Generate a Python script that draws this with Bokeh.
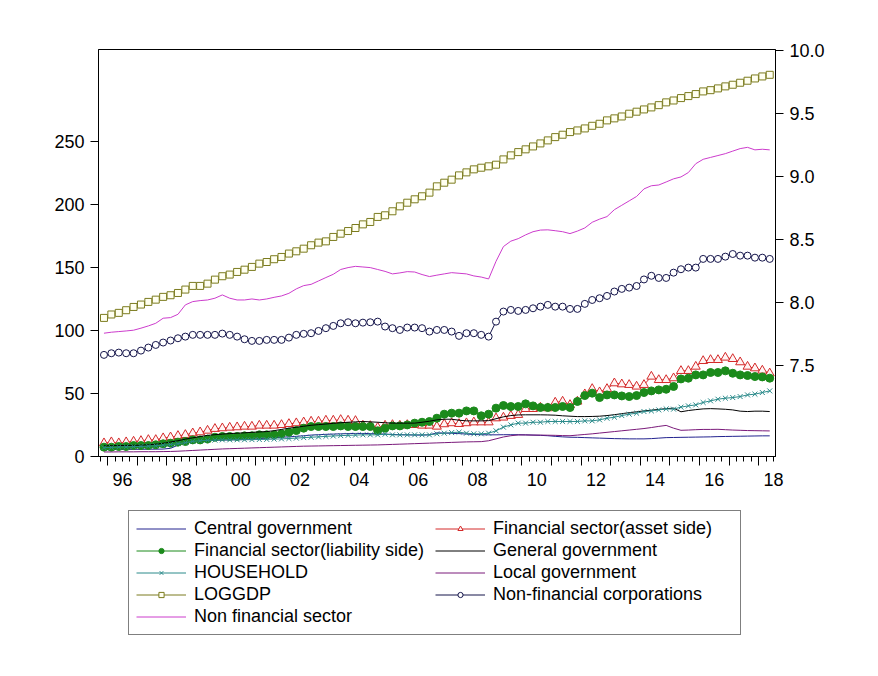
import numpy as np
from bokeh.plotting import figure
from bokeh.layouts import column
from bokeh.models import (Range1d, LinearAxis, FixedTicker, CustomJSTickFormatter,
                          NumeralTickFormatter, Legend, LegendItem)
from bokeh.embed import file_html
from bokeh.resources import INLINE

# ---------------- data (quarterly, 1995Q4 .. 2018Q2) ----------------
quarters = [f"{1995 + (i + 3) // 4}Q{(i + 3) % 4 + 1}" for i in range(91)]

central_gov = [5.5, 5.5, 5.6, 5.6, 5.7, 5.7, 5.8, 5.8, 5.9, 6.5, 9.0, 11.0, 11.8, 12.2, 12.5, 12.8, 13.0, 13.2,
               13.3, 13.5, 13.8, 14.2, 14.6, 15.0, 15.3, 15.6, 16.0, 16.5, 17.0, 17.3, 17.6, 17.8, 18.0, 18.2, 18.3,
               18.3, 18.2, 18.0, 17.8, 17.5, 17.3, 17.2, 17.0, 17.0, 17.2, 18.8, 18.6, 18.4, 18.2, 17.8, 17.5, 17.3,
               17.2, 17.2, 17.3, 17.3, 17.3, 17.2, 17.0, 16.8, 16.5, 16.0, 15.6, 15.3, 15.2, 15.0, 14.8, 14.6, 14.4,
               14.2, 14.1, 14.0, 14.0, 14.0, 14.2, 14.6, 15.0, 15.1, 15.2, 15.3, 15.4, 15.5, 15.6, 15.8, 15.9, 16.0,
               16.1, 16.2, 16.3, 16.4, 16.4]

fin_asset = [10.6, 11.4, 10.6, 11.4, 11.9, 12.4, 13.2, 13.2, 14.6, 15.3, 16.4, 17.2, 18.5, 19.3, 20.6, 22.0, 22.5,
             23.0, 23.3, 23.8, 23.8, 24.6, 24.6, 24.6, 25.1, 25.9, 26.5, 27.2, 27.8, 27.8, 28.6, 28.6, 29.1, 28.6,
             28.3,
             24.6, 24.3, 23.0, 24.6, 25.1, 24.6, 25.1, 25.1, 24.6, 24.6, 23.8, 25.7, 26.5, 25.9, 26.5, 27.2, 27.2,
             27.2, 30.4, 31.0, 32.3, 33.1, 37.8, 37.8, 38.9, 38.4, 42.9, 43.7, 41.0, 43.7, 49.5, 53.7, 51.1, 53.7,
             58.2, 57.4, 56.9, 55.6, 56.9, 63.5, 60.8, 60.8, 62.2, 68.0, 68.0, 71.4, 75.9, 76.7, 76.7, 78.6, 77.5,
             74.9, 71.4, 70.1, 68.3, 66.1]

fin_liab = [7.4, 7.4, 7.9, 7.9, 8.7, 8.7, 8.7, 9.3, 10.1, 10.6, 11.4, 11.9, 13.2, 13.2, 13.8, 15.3, 15.9, 15.9,
            15.9, 16.4, 16.4, 17.2, 17.2, 17.2, 18.0, 19.3, 20.6, 22.5, 23.8, 23.8, 23.8, 23.8, 24.3, 23.8, 23.8,
            23.8, 23.8, 20.4, 22.5, 24.3, 24.3, 25.1, 26.5, 27.2, 27.8, 30.4, 33.6, 34.4, 34.4, 36.2, 36.2, 32.3,
            33.6, 38.4, 40.5, 39.7, 39.7, 41.8, 40.2, 38.9, 38.9, 38.9, 39.7, 38.9, 43.7, 48.4, 50.3, 46.8, 48.9,
            48.9, 48.1, 47.6, 48.4, 50.8, 52.1, 52.9, 53.4, 55.6, 61.6, 62.2, 64.8, 64.8, 66.7, 66.7, 68.0, 66.1,
            64.8, 64.3, 63.5, 63.2, 62.2]

general_gov = [8.5, 8.6, 8.7, 8.8, 8.9, 9.0, 9.3, 9.8, 10.5, 11.5, 12.5, 13.8, 14.8, 15.8, 16.8, 17.3, 17.8, 18.2,
               18.5, 18.8, 19.2, 19.5, 19.8, 20.5, 21.5, 22.5, 23.2, 24.0, 24.8, 25.3, 25.8, 26.3, 26.8, 27.2, 27.5,
               27.8, 27.5, 27.2, 26.8, 26.5, 26.5, 26.5, 26.5, 27.2, 28.0, 29.1, 29.6, 29.6, 28.8, 28.3, 28.3, 28.3,
               28.5, 30.0, 31.5, 32.5, 33.0, 33.1, 33.1, 33.1, 33.0, 32.8, 32.3, 32.0, 31.7, 31.7, 31.8, 32.0, 32.5,
               33.2, 34.0, 34.8, 35.5, 36.2, 36.8, 37.4, 38.0, 38.4, 35.5, 36.5, 37.2, 37.8, 38.0, 37.8, 37.5, 37.0,
               36.0, 35.7, 36.0, 36.0, 35.7]

household = [7.0, 7.2, 7.5, 7.6, 7.8, 8.0, 8.2, 8.5, 9.0, 9.5, 10.2, 11.0, 12.0, 12.5, 12.8, 13.0, 13.2, 13.2,
             13.3, 13.3, 13.4, 13.5, 13.6, 13.8, 14.0, 14.3, 14.6, 15.0, 15.3, 15.6, 16.0, 16.3, 16.6, 16.8, 17.0,
             17.2, 17.2, 17.2, 17.7, 17.2, 17.2, 17.2, 17.2, 17.2, 17.2, 18.0, 18.5, 19.0, 19.3, 18.5, 18.0, 18.0,
             18.5, 20.4, 23.3, 25.1, 26.5, 26.5, 27.2, 27.2, 27.8, 27.8, 27.8, 27.8, 27.8, 28.3, 28.3, 29.1, 30.4,
             31.2, 32.5, 33.6, 34.4, 35.7, 36.2, 37.0, 37.8, 37.6, 39.2, 40.2, 41.0, 42.9, 44.2, 45.5, 46.3, 46.8,
             47.6, 48.9, 49.5, 50.8, 52.1]

local_gov = [3.6, 3.6, 3.7, 3.7, 3.7, 3.8, 3.8, 3.8, 3.9, 4.0, 4.2, 4.5, 4.8, 5.1, 5.4, 5.7, 6.0, 6.2, 6.4, 6.6,
             6.8, 7.0, 7.2, 7.4, 7.6, 7.8, 8.0, 8.2, 8.3, 8.4, 8.5, 8.6, 8.7, 8.8, 8.9,
             9.0, 9.1, 9.2, 9.4, 9.6, 9.8, 10.0, 10.2, 10.4, 10.6, 10.8, 11.0, 11.2, 11.4, 11.6, 11.7,
             11.8, 12.5, 14.0, 15.5, 16.5, 17.1, 17.1, 17.0, 17.0, 16.9, 16.8, 16.6, 16.5, 17.0, 17.5, 18.0, 18.6,
             19.2, 19.8, 20.4, 21.0, 21.6, 22.2, 23.0, 23.9, 24.7, 22.5, 20.8, 21.0, 21.3, 21.5, 21.5, 21.6, 21.3,
             21.0, 20.8, 20.6, 20.5, 20.4, 20.3]

loggdp = [7.876, 7.903, 7.916, 7.937, 7.963, 7.982, 8.003, 8.021, 8.043, 8.056, 8.074, 8.101, 8.130, 8.130, 8.148,
          8.180, 8.207, 8.220, 8.241, 8.259, 8.281, 8.307, 8.320, 8.342, 8.360, 8.387, 8.405, 8.426, 8.453, 8.474,
          8.484, 8.519, 8.545, 8.566, 8.590,
          8.619, 8.638, 8.678, 8.691, 8.723, 8.762, 8.791, 8.818, 8.842, 8.871, 8.921, 8.950, 8.974, 9.008, 9.032,
          9.056, 9.069, 9.080, 9.093, 9.135, 9.167, 9.193, 9.215, 9.238, 9.262, 9.286, 9.312, 9.331, 9.352, 9.365,
          9.381, 9.402, 9.418, 9.445, 9.461, 9.476, 9.498, 9.514, 9.532, 9.548, 9.566, 9.588, 9.603, 9.622, 9.638,
          9.654, 9.675, 9.685, 9.699, 9.715, 9.728, 9.744, 9.760, 9.778, 9.794, 9.807]

nonfin_corp = [80.7, 82.0, 82.5, 82.0, 82.0, 84.1, 86.5, 88.6, 90.5, 92.1, 93.9, 95.2, 96.6, 96.6, 96.6, 96.6, 97.6,
               96.6, 95.2, 93.1, 91.8, 91.8, 92.6, 92.6, 92.6, 94.4, 96.6, 97.4, 97.9, 99.7, 101.9, 103.7, 105.8,
               106.6, 105.8,
               106.3, 106.6, 107.1, 103.2, 101.9, 100.5, 102.4, 102.4, 101.9, 99.2, 100.5, 100.5, 99.2, 95.8, 97.9,
               97.9, 96.6, 95.2, 107.1, 115.1, 116.4, 115.6, 116.4, 117.7, 119.0, 120.4, 119.0, 119.0, 117.2, 117.2,
               121.2, 124.3, 125.7, 127.5, 131.0, 133.1, 134.1, 135.4, 140.6, 143.5, 141.8, 141.8, 146.0, 148.7,
               150.0, 150.0, 156.9, 156.9, 156.9, 158.7, 160.8, 159.5, 159.5, 157.9, 157.9, 156.9]

nonfin_sector = [97.9, 98.7, 99.2, 99.7, 100.3, 101.9, 103.7, 105.8, 109.8, 110.3, 112.9, 120.4, 123.0, 123.8,
                 124.3, 125.7, 128.3, 125.7, 124.3, 124.3, 125.1, 124.3, 125.1, 126.4, 127.5, 129.6, 133.1, 135.7,
                 136.7, 139.4, 142.1, 144.7, 148.5, 150.0, 151.0,
                 150.5, 150.0, 148.5, 147.0, 145.0, 145.8, 146.8, 146.5, 144.5, 142.9, 144.0, 145.0, 146.0, 145.5,
                 145.0, 143.4, 142.5, 141.0, 155.0, 166.7, 171.0, 173.0, 176.0, 178.5, 179.8, 180.0, 179.3, 178.5,
                 177.0, 179.0, 181.5, 186.0, 188.5, 190.5, 196.0, 199.5, 203.0, 206.5, 212.5, 215.0, 215.6, 218.0,
                 220.5, 222.0, 225.5, 232.5, 236.0, 237.5, 239.0, 240.5, 242.5, 244.5, 245.5, 243.5, 244.0, 243.5]

left_ticks = [0, 50, 100, 150, 200, 250]
right_ticks = [7.5, 8.0, 8.5, 9.0, 9.5, 10.0]
year_labels = list(range(1996, 2019, 2))

# quarter -> position on a time axis (centre of the quarter)
x = np.array([int(q[:4]) + (int(q[-1]) - 1) / 4 + 0.125 for q in quarters])

FONT = "Liberation Sans"

# (name, label, colour, marker, marker size, marker fill, uses right axis)
series = [
    ("central_gov", "Central government", "#23238f", None, 0, None, False),
    ("fin_asset", "Financial sector(asset side)", "#d42a2a", "triangle", 9, "#fff4f4", False),
    ("fin_liab", "Financial sector(liability side)", "#1b8a1b", "circle", 8, "#1b8a1b", False),
    ("general_gov", "General government", "black", None, 0, None, False),
    ("household", "HOUSEHOLD", "#2a8a8a", "x", 7, None, False),
    ("local_gov", "Local government", "#7a1a7a", None, 0, None, False),
    ("loggdp", "LOGGDP", "#7b7b1e", "square", 7, "#fffff0", True),
    ("nonfin_corp", "Non-financial corporations", "#14144a", "circle", 7, "white", False),
    ("nonfin_sector", "Non financial sector", "#cc3ccc", None, 0, None, False),
]
values = dict(central_gov=central_gov, fin_asset=fin_asset, fin_liab=fin_liab, general_gov=general_gov,
              household=household, local_gov=local_gov, loggdp=loggdp, nonfin_corp=nonfin_corp,
              nonfin_sector=nonfin_sector)

W = 870
p = figure(width=W, height=506, output_backend="svg", toolbar_location=None,
           x_range=Range1d(1995.69, 2018.57), y_range=Range1d(0, 323.2),
           min_border_left=98, min_border_right=W - 775, min_border_top=49, min_border_bottom=50,
           background_fill_color="white", border_fill_color="white")
p.extra_y_ranges = {"right": Range1d(6.775, 10.008)}
p.xgrid.visible = False
p.ygrid.visible = False
p.outline_line_color = "black"
p.outline_line_width = 1


def style_axis(ax):
    ax.axis_line_color = "black"
    ax.major_tick_line_color = "black"
    ax.minor_tick_line_color = "black"
    ax.major_label_text_font = FONT
    ax.major_label_text_font_size = "18px"
    ax.major_label_text_color = "black"


# left axis
yl = p.yaxis[0]
style_axis(yl)
yl.ticker = FixedTicker(ticks=left_ticks)
yl.major_tick_out = 8
yl.major_tick_in = 0
yl.minor_tick_out = 0
yl.minor_tick_in = 0
yl.major_label_standoff = 6

# right axis
yr = LinearAxis(y_range_name="right", ticker=FixedTicker(ticks=right_ticks),
                formatter=NumeralTickFormatter(format="0.0"))
style_axis(yr)
yr.major_tick_out = 8
yr.major_tick_in = 0
yr.minor_tick_out = 0
yr.minor_tick_in = 0
yr.major_label_standoff = 6
p.add_layout(yr, "right")

# bottom axis: year / quarter tick marks
xa = p.xaxis[0]
style_axis(xa)
xa.ticker = FixedTicker(ticks=list(range(1996, 2019)),
                        minor_ticks=[1995.75 + 0.25 * k for k in range(92)])
xa.formatter = CustomJSTickFormatter(code="return '';")
xa.major_label_text_font_size = "0px"
xa.major_label_standoff = 0
xa.major_tick_out = 9
xa.major_tick_in = 0
xa.minor_tick_out = 5
xa.minor_tick_in = 0

# bottom labels centred on the years
xl = LinearAxis(ticker=FixedTicker(ticks=[y + 0.5 for y in year_labels]),
                formatter=CustomJSTickFormatter(code="return String(Math.floor(tick) % 100).padStart(2, '0');"))
style_axis(xl)
xl.axis_line_color = None
xl.major_tick_out = 0
xl.major_tick_in = 0
xl.minor_tick_out = 0
xl.minor_tick_in = 0
xl.major_label_standoff = 7
p.add_layout(xl, "below")

# ---- legend lives in a second, axis-less figure just below the chart ----
# its ranges are set so that the series themselves stay out of view; only the key shows
q = figure(width=W, height=160, output_backend="svg", toolbar_location=None,
           x_axis_type=None, y_axis_type=None, x_range=Range1d(0, 1), y_range=Range1d(0, 1),
           min_border_left=0, min_border_right=0, min_border_top=0, min_border_bottom=0,
           outline_line_color=None, background_fill_color="white", border_fill_color="white")
q.xgrid.visible = False
q.ygrid.visible = False

items = []
for key, label, color, marker, msize, mfill, right in series:
    kw = dict(y_range_name="right") if right else {}
    p.line(x, values[key], line_color=color, line_width=1, **kw)
    if marker:
        p.scatter(x, values[key], marker=marker, size=msize, line_color=color,
                  fill_color=mfill, line_width=1, **kw)
    rs = [q.line(x, values[key], line_color=color, line_width=1)]
    if marker:
        rs.append(q.scatter(x, values[key], marker=marker, size=msize, line_color=color,
                            fill_color=mfill, line_width=1))
    items.append(LegendItem(label=label, renderers=rs))

legend = Legend(items=items, location=(30, 31), orientation="horizontal", ncols=2,
                label_text_font=FONT, label_text_font_size="18px", label_text_color="black",
                glyph_width=50, glyph_height=13, label_height=19, label_width=240, label_standoff=8,
                spacing=1, padding=7, margin=0,
                border_line_color="black", border_line_width=1, background_fill_color="white")
q.add_layout(legend, "center")

layout = column(p, q, spacing=0)
open("out.html", "w").write(file_html(layout, INLINE))
